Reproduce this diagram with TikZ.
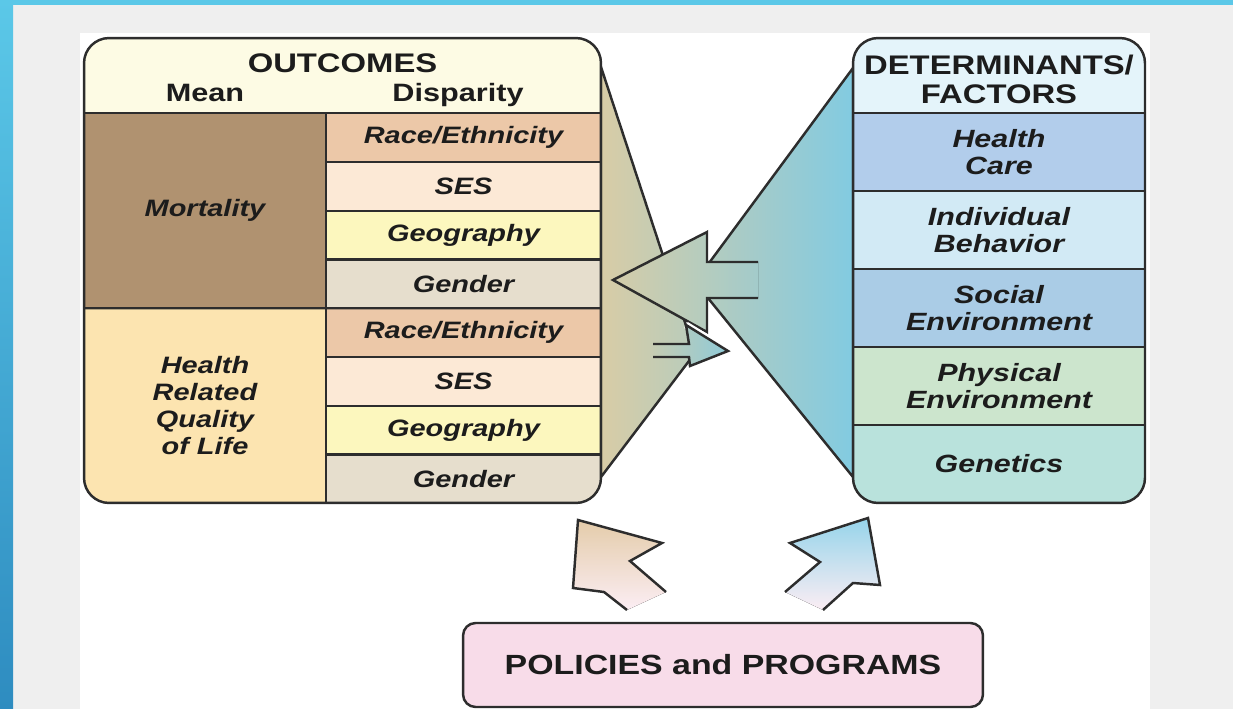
\documentclass[tikz,border=0pt]{standalone}
\usepackage{fontspec}
\newfontfamily\diafont[FakeStretch=1.22]{Liberation Sans}
\usetikzlibrary{positioning}

\definecolor{bggray}{RGB}{239,239,239}
\definecolor{bandtop}{RGB}{91,200,232}
\definecolor{bandbot}{RGB}{46,140,192}
\definecolor{edge}{RGB}{45,45,45}
\definecolor{ink}{RGB}{28,28,28}
\definecolor{cream}{RGB}{253,251,228}
\definecolor{mortal}{RGB}{176,146,112}
\definecolor{qualife}{RGB}{252,228,176}
\definecolor{race}{RGB}{236,200,168}
\definecolor{ses}{RGB}{252,233,214}
\definecolor{geo}{RGB}{252,247,190}
\definecolor{gender}{RGB}{230,222,205}
\definecolor{dethead}{RGB}{228,244,250}
\definecolor{hcare}{RGB}{178,205,235}
\definecolor{behav}{RGB}{210,234,245}
\definecolor{social}{RGB}{170,204,230}
\definecolor{physic}{RGB}{204,229,205}
\definecolor{genet}{RGB}{185,226,220}
\definecolor{policy}{RGB}{248,220,233}
\definecolor{ftan}{RGB}{216,204,166}
\definecolor{fblue}{RGB}{130,203,225}
\definecolor{apink}{RGB}{247,216,230}
\definecolor{atan}{RGB}{228,204,170}
\definecolor{ablue}{RGB}{150,212,234}

\tikzstyle{cell} = [rectangle, inner sep=0pt, align=center, text=ink,
  font=\diafont\fontsize{13.5}{15.2}\selectfont\bfseries\itshape]
\tikzstyle{head} = [inner sep=0pt, align=center, text=ink,
  font=\diafont\fontsize{14.3}{16.5}\selectfont\bfseries]
\tikzstyle{title} = [head, font=\diafont\fontsize{15.3}{16.5}\selectfont\bfseries]
\tikzstyle{disp} = [cell, minimum width=5.5cm, minimum height=0.975cm]
\tikzstyle{factor} = [cell, minimum width=5.84cm, minimum height=1.56cm,
  font=\diafont\fontsize{14.2}{15.4}\selectfont\bfseries\itshape]
\tikzstyle{frame} = [draw=edge, line width=1.4pt]
\tikzstyle{sep} = [draw=edge, line width=1.3pt]

\begin{document}
\begin{tikzpicture}[x=0.02cm, y=-0.02cm]
  \useasboundingbox (0,0) rectangle (1233,709);

  % page
  \fill[bggray] (0,0) rectangle (1233,709);
  \fill[white] (80,33) rectangle (1150,709);
  \fill[bandtop] (0,0) rectangle (1233,5);
  \shade[top color=bandtop, bottom color=bandbot] (0,0) rectangle (13,709);

  %%%%%%%%%%%%%%%%%%%%%%%%%%%%%%%%%%%%%%%%%%%%%%%%%%%%%%%%%%%%%%
  %                    FUNNELS AND ARROWS                      %
  %%%%%%%%%%%%%%%%%%%%%%%%%%%%%%%%%%%%%%%%%%%%%%%%%%%%%%%%%%%%%%

  \path[frame, left color=ftan, right color=fblue!37!ftan]
    (601,67) -- (695,353) -- (601,477) -- cycle;
  \path[frame, left color=fblue!37!ftan, right color=fblue]
    (853,68) -- (695,282) -- (853,477) -- cycle;

  \fill[left color=fblue!5!ftan, right color=fblue!62!ftan]
    (613,280) -- (707,232) -- (707,262) -- (758,262) -- (758,298)
    -- (707,298) -- (707,332) -- cycle;
  \draw[frame, line join=miter] (758,262) -- (707,262) -- (707,232) -- (613,280)
    -- (707,332) -- (707,298) -- (758,298);

  \draw[white, line width=4pt] (686,325) -- (728,351);
  \fill[left color=fblue!22!ftan, right color=fblue!85!ftan]
    (653,344) -- (689,344) -- (686,325) -- (728,351) -- (690,366)
    -- (689,357) -- (653,357) -- cycle;
  \draw[frame] (653,344) -- (689,344) -- (686,325) -- (728,351)
    -- (690,366) -- (689,357) -- (653,357);

  \fill[top color=atan, bottom color=apink!45!white]
    (627,610) -- (604,592) -- (573,588) -- (578,520) -- (662,543)
    -- (630,561) -- (666,592) -- cycle;
  \draw[frame] (627,610) -- (604,592) -- (573,588) -- (578,520)
    -- (662,543) -- (630,561) -- (666,592);

  \fill[top color=ablue, bottom color=apink!45!white]
    (823,610) -- (853,583) -- (880,585) -- (868,518) -- (790,543)
    -- (820,562) -- (785,592) -- cycle;
  \draw[frame] (823,610) -- (853,583) -- (880,585) -- (868,518)
    -- (790,543) -- (820,562) -- (785,592);

  %%%%%%%%%%%%%%%%%%%%%%%%%%%%%%%%%%%%%%%%%%%%%%%%%%%%%%%%%%%%%%
  %                    OUTCOMES                                %
  %%%%%%%%%%%%%%%%%%%%%%%%%%%%%%%%%%%%%%%%%%%%%%%%%%%%%%%%%%%%%%

  \begin{scope}
    \clip[rounded corners=0.5cm] (84,38) rectangle (601,503);
    \node[rectangle, inner sep=0pt, fill=cream, minimum width=10.34cm,
      minimum height=1.5cm] (outcomes-header) at (342.5,75.5) {};
    \node[cell, fill=mortal, minimum width=4.84cm, minimum height=3.9cm]
      (mortality) at (205,210.5) {Mortality};
    \node[cell, fill=qualife, minimum width=4.84cm, minimum height=3.9cm]
      (quality-of-life) at (205,405.5) {Health\\Related\\Quality\\of Life};
    \node[disp, fill=race]   (race-mort)   at (463.5,137.4) {Race/Ethnicity};
    \node[disp, fill=ses]    (ses-mort)    at (463.5,186.1) {SES};
    \node[disp, fill=geo]    (geo-mort)    at (463.5,234.9) {Geography};
    \node[disp, fill=gender] (gender-mort) at (463.5,283.6) {Gender};
    \node[disp, fill=race]   (race-qol)    at (463.5,332.4) {Race/Ethnicity};
    \node[disp, fill=ses]    (ses-qol)     at (463.5,381.1) {SES};
    \node[disp, fill=geo]    (geo-qol)     at (463.5,429.9) {Geography};
    \node[disp, fill=gender] (gender-qol)  at (463.5,478.6) {Gender};
  \end{scope}

  \node[title, anchor=base] (outcomes-title) at (342.5,73) {OUTCOMES};
  \node[head, anchor=base] (mean-label) at (205,102) {Mean};
  \node[head, anchor=base] (disparity-label) at (458,102) {Disparity};

  \draw[sep] (outcomes-header.south west) -- (outcomes-header.south east);
  \draw[sep] (mortality.north east) -- (quality-of-life.south east);
  \draw[sep] (mortality.south west) -- (gender-mort.south east);
  \draw[sep] (race-mort.south west) -- (race-mort.south east);
  \draw[sep] (ses-mort.south west) -- (ses-mort.south east);
  \draw[sep] (geo-mort.south west) -- (geo-mort.south east);
  \draw[sep] (race-qol.south west) -- (race-qol.south east);
  \draw[sep] (ses-qol.south west) -- (ses-qol.south east);
  \draw[sep] (geo-qol.south west) -- (geo-qol.south east);

  \node[frame, rounded corners=0.5cm, minimum width=10.34cm,
    minimum height=9.3cm] (outcomes) at (342.5,270.5) {};

  %%%%%%%%%%%%%%%%%%%%%%%%%%%%%%%%%%%%%%%%%%%%%%%%%%%%%%%%%%%%%%
  %                    DETERMINANTS                            %
  %%%%%%%%%%%%%%%%%%%%%%%%%%%%%%%%%%%%%%%%%%%%%%%%%%%%%%%%%%%%%%

  \begin{scope}
    \clip[rounded corners=0.5cm] (853,38) rectangle (1145,503);
    \node[head, fill=dethead, minimum width=5.84cm, minimum height=1.5cm]
      (determinants-header) at (999,75.5) {};
    \node[factor, fill=hcare]  (health-care) at (999,152) {Health\\Care};
    \node[factor, fill=behav]  (behavior)    at (999,230) {Individual\\Behavior};
    \node[factor, fill=social] (social-env)  at (999,308) {Social\\Environment};
    \node[factor, fill=physic] (physical-env) at (999,386) {Physical\\Environment};
    \node[factor, fill=genet]  (genetics)    at (999,464) {Genetics};
  \end{scope}

  \node[title] (determinants-title) at (999,79) {DETERMINANTS/\\FACTORS};

  \draw[sep] (determinants-header.south west) -- (determinants-header.south east);
  \draw[sep] (health-care.south west) -- (health-care.south east);
  \draw[sep] (behavior.south west) -- (behavior.south east);
  \draw[sep] (social-env.south west) -- (social-env.south east);
  \draw[sep] (physical-env.south west) -- (physical-env.south east);

  \node[frame, rounded corners=0.5cm, minimum width=5.84cm,
    minimum height=9.3cm] (determinants) at (999,270.5) {};

  %%%%%%%%%%%%%%%%%%%%%%%%%%%%%%%%%%%%%%%%%%%%%%%%%%%%%%%%%%%%%%
  %                    POLICIES                                %
  %%%%%%%%%%%%%%%%%%%%%%%%%%%%%%%%%%%%%%%%%%%%%%%%%%%%%%%%%%%%%%

  \node[frame, rounded corners=0.25cm, fill=policy, text=ink,
    minimum width=10.4cm, minimum height=1.68cm,
    font=\diafont\fontsize{15.8}{17}\selectfont\bfseries]
    (policies) at (723,665) {POLICIES and PROGRAMS};

\end{tikzpicture}
\end{document}
